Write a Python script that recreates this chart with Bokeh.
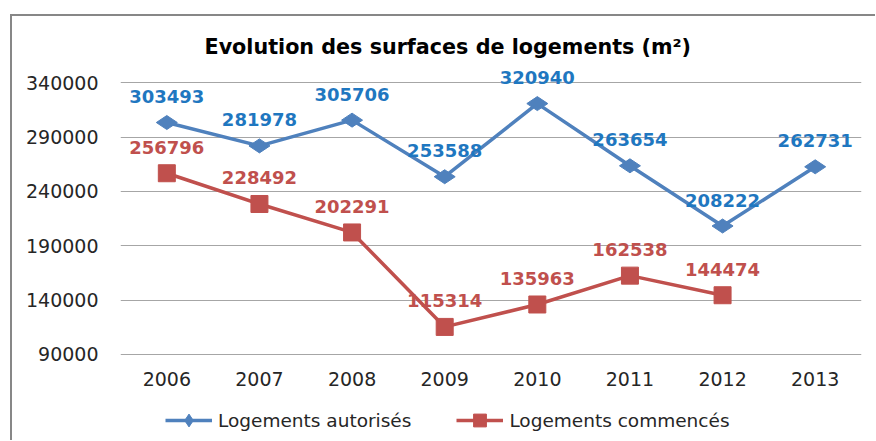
from bokeh.plotting import figure
from bokeh.layouts import column
from bokeh.models import (Legend, LegendItem, FixedTicker, ColumnDataSource,
                          NumeralTickFormatter, Range1d)
from bokeh.core.properties import value
from bokeh.embed import file_html
from bokeh.resources import INLINE

years = ["2006", "2007", "2008", "2009", "2010", "2011", "2012", "2013"]
autorises = [303493, 281978, 305706, 253588, 320940, 263654, 208222, 262731]
commences_years = ["2006", "2007", "2008", "2009", "2010", "2011", "2012"]
commences = [256796, 228492, 202291, 115314, 135963, 162538, 144474]
y_ticks = [90000, 140000, 190000, 240000, 290000, 340000]
series_names = ["Logements autorisés", "Logements commencés"]

BLUE = "#4F81BD"
BLUE_TXT = "#1F77C0"
RED = "#C0504D"
FONT = "DejaVu Sans"

src_a = ColumnDataSource(dict(x=years, y=autorises, t=[str(v) for v in autorises]))
src_c = ColumnDataSource(dict(x=commences_years, y=commences, t=[str(v) for v in commences]))

p = figure(x_range=years, y_range=Range1d(89000, 356000), width=863, height=380,
           output_backend="svg", toolbar_location=None,
           min_border_left=108, min_border_right=14, min_border_top=49, min_border_bottom=41)
p.x_range.range_padding = 0

p.title.text = "Evolution des surfaces de logements (m²)"
p.title.text_font = FONT
p.title.text_font_size = "20.7px"
p.title.text_font_style = "bold"
p.title.text_color = "#000000"
p.title.align = "left"
p.title.offset = 84
p.title.standoff = 14

p.outline_line_color = None
p.xgrid.grid_line_color = None
p.ygrid.grid_line_color = "#A6A6A6"
p.ygrid.grid_line_width = 1
p.yaxis.ticker = FixedTicker(ticks=y_ticks)
p.yaxis.formatter = NumeralTickFormatter(format="0")
for ax in (p.xaxis, p.yaxis):
    ax.axis_line_color = None
    ax.major_tick_line_color = None
    ax.minor_tick_line_color = None
    ax.major_tick_out = 0
    ax.major_tick_in = 0
    ax.minor_tick_out = 0
    ax.major_label_text_font = FONT
    ax.major_label_text_font_size = "19px"
    ax.major_label_text_color = "#262626"
p.yaxis.major_label_standoff = 22
p.xaxis.major_label_standoff = 16

la = p.line("x", "y", source=src_a, color=BLUE, line_width=3.5)
ma = p.scatter("x", "y", source=src_a, marker="diamond", size=21, angle=1.5708,
               fill_color=BLUE, line_color=BLUE)
lc = p.line("x", "y", source=src_c, color=RED, line_width=3.5)
mc = p.scatter("x", "y", source=src_c, marker="square", size=17,
               fill_color=RED, line_color=RED)

p.text("x", "y", text="t", source=src_a, y_offset=-26, text_align="center",
       text_baseline="middle", text_font=value(FONT), text_font_size="18px",
       text_font_style="bold", text_color=BLUE_TXT)
p.text("x", "y", text="t", source=src_c, y_offset=-26, text_align="center",
       text_baseline="middle", text_font=value(FONT), text_font_size="18px",
       text_font_style="bold", text_color=RED)

# legend strip underneath the chart (swatch renderers sit outside its visible range)
p2 = figure(width=863, height=44, x_range=Range1d(0, 1), y_range=Range1d(0, 1),
            output_backend="svg", toolbar_location=None,
            x_axis_location=None, y_axis_location=None,
            min_border_left=0, min_border_right=0, min_border_top=0, min_border_bottom=0)
p2.outline_line_color = None
p2.xgrid.visible = False
p2.ygrid.visible = False
swatch = ColumnDataSource(dict(x=[5, 6], y=[5, 5]))
ga = p2.line("x", "y", source=swatch, color=BLUE, line_width=3.5)
gma = p2.scatter("x", "y", source=swatch, marker="diamond", size=21, angle=1.5708,
                 fill_color=BLUE, line_color=BLUE)
gc = p2.line("x", "y", source=swatch, color=RED, line_width=3.5)
gmc = p2.scatter("x", "y", source=swatch, marker="square", size=17,
                 fill_color=RED, line_color=RED)

legend = Legend(items=[LegendItem(label=series_names[0], renderers=[ga, gma], index=0),
                       LegendItem(label=series_names[1], renderers=[gc, gmc], index=0)],
                orientation="horizontal", location=(45, 4))
legend.glyph_width = 47
legend.glyph_height = 32
legend.label_standoff = 6
legend.spacing = 45
legend.padding = 0
legend.margin = 0
legend.border_line_color = None
legend.background_fill_alpha = 0
legend.label_text_font = FONT
legend.label_text_font_size = "18.5px"
legend.label_text_color = "#262626"
p2.add_layout(legend, "center")

layout = column(p, p2, spacing=0, margin=(14, 0, 0, 10),
                styles={"border-left": "2px solid #878787", "border-top": "2px solid #878787"})

open("out.html", "w").write(file_html(layout, INLINE))
